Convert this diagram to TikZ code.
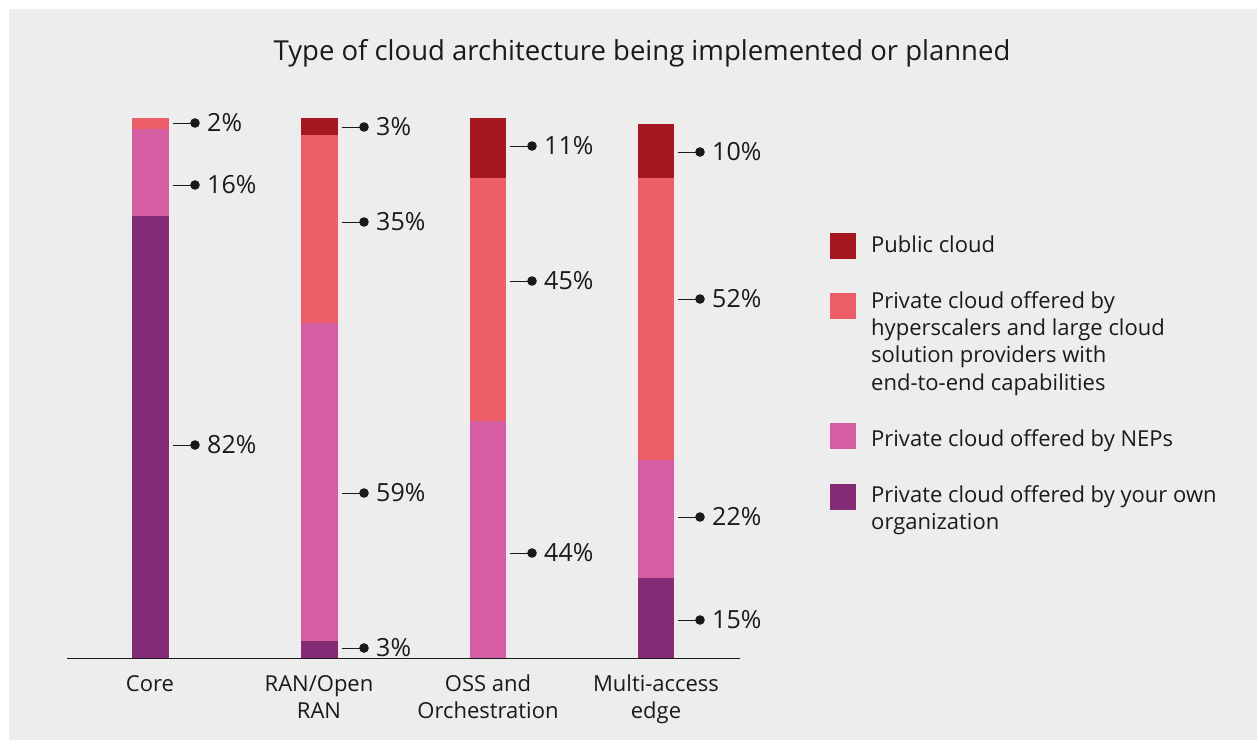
\documentclass[tikz,border=0pt]{standalone}
\usepackage{fontspec}
\setmainfont{Open Sans}
\definecolor{bg}{HTML}{EDEDED}
\definecolor{pubc}{HTML}{A51820}
\definecolor{hypc}{HTML}{EC5F68}
\definecolor{nepc}{HTML}{D55DA1}
\definecolor{ownc}{HTML}{842B76}
\definecolor{txt}{HTML}{1A1A1A}
\tikzset{
  pct/.style={font=\fontsize{25}{29}\selectfont, text=txt, inner sep=0pt, anchor=west},
  leg/.style={font=\fontsize{22}{27}\selectfont, text=txt, inner sep=0pt, anchor=base west},
  axl/.style={font=\fontsize{22}{27}\selectfont, text=txt, inner sep=0pt, anchor=base},
  leader/.style={draw=txt, line width=1pt},
  swatch/.style={minimum width=26pt, minimum height=26pt, inner sep=0pt, outer sep=0pt, anchor=north west},
}
\newcommand{\pctlabel}[4]{%
  \coordinate (#1s) at (#2+4,#3);
  \coordinate (#1d) at (#2+26,#3);
  \node[pct] (#1) at (#2+38,#3) {#4};
  \draw[leader] (#1s) -- (#1d);
  \fill[txt] (#1d) circle (4.8);
}
\begin{document}
\begin{tikzpicture}[x=1pt,y=-1pt]
\useasboundingbox (0,0) rectangle (1257,740);
\fill[white] (0,0) rectangle (1257,740);
\fill[bg] (9,9) rectangle (1257,740);

% title
\node[font=\fontsize{27.5}{31}\selectfont, text=txt, inner sep=0pt, anchor=base] (title) at (642,60) {Type of cloud architecture being implemented or planned};

% Core bar
\fill[hypc] (132,118) rectangle (169,129);
\fill[nepc] (132,129) rectangle (169,216);
\fill[ownc] (132,216) rectangle (169,658);
% RAN bar
\fill[pubc] (301,118) rectangle (338,135);
\fill[hypc] (301,135) rectangle (338,323);
\fill[nepc] (301,323) rectangle (338,641);
\fill[ownc] (301,641) rectangle (338,658);
% OSS bar
\fill[pubc] (470,118) rectangle (506,178);
\fill[hypc] (470,178) rectangle (506,421);
\fill[nepc] (470,421) rectangle (506,658);
% MEC bar
\fill[pubc] (638,124) rectangle (674,178);
\fill[hypc] (638,178) rectangle (674,460);
\fill[nepc] (638,460) rectangle (674,578);
\fill[ownc] (638,578) rectangle (674,658);

% axis line
\coordinate (axl) at (67,658);
\coordinate (axr) at (740,658);
\draw[draw=txt, line width=1pt] (axl) -- (axr);

% percentage labels
\pctlabel{c1}{169}{123}{2\%}
\pctlabel{c2}{169}{185}{16\%}
\pctlabel{c3}{169}{445}{82\%}
\pctlabel{r1}{338}{127}{3\%}
\pctlabel{r2}{338}{222}{35\%}
\pctlabel{r3}{338}{493}{59\%}
\pctlabel{r4}{338}{648}{3\%}
\pctlabel{o1}{506}{146}{11\%}
\pctlabel{o2}{506}{281}{45\%}
\pctlabel{o3}{506}{553}{44\%}
\pctlabel{m1}{674}{152}{10\%}
\pctlabel{m2}{674}{299}{52\%}
\pctlabel{m3}{674}{517}{22\%}
\pctlabel{m4}{674}{620}{15\%}

% axis labels
\node[axl] (xc) at (150,691) {Core};
\node[axl] (xr1) at (319,691) {RAN/Open};
\node[axl] (xr2) at (319,718) {RAN};
\node[axl] (xo1) at (488,691) {OSS and};
\node[axl] (xo2) at (488,718) {Orchestration};
\node[axl] (xm1) at (656,691) {Multi-access};
\node[axl] (xm2) at (656,718) {edge};

% legend
\node[swatch, fill=pubc] (s1) at (830,233) {};
\node[swatch, fill=hypc] (s2) at (830,293) {};
\node[swatch, fill=nepc] (s3) at (830,423) {};
\node[swatch, fill=ownc] (s4) at (830,484) {};
\node[leg] (l1) at (871,252) {Public cloud};
\node[leg] (l2a) at (871,308) {Private cloud offered by};
\node[leg] (l2b) at (871,335) {hyperscalers and large cloud};
\node[leg] (l2c) at (871,362) {solution providers with};
\node[leg] (l2d) at (871,390) {end-to-end capabilities};
\node[leg] (l3) at (871,446) {Private cloud offered by NEPs};
\node[leg] (l4a) at (871,502) {Private cloud offered by your own};
\node[leg] (l4b) at (871,529) {organization};
\end{tikzpicture}
\end{document}
